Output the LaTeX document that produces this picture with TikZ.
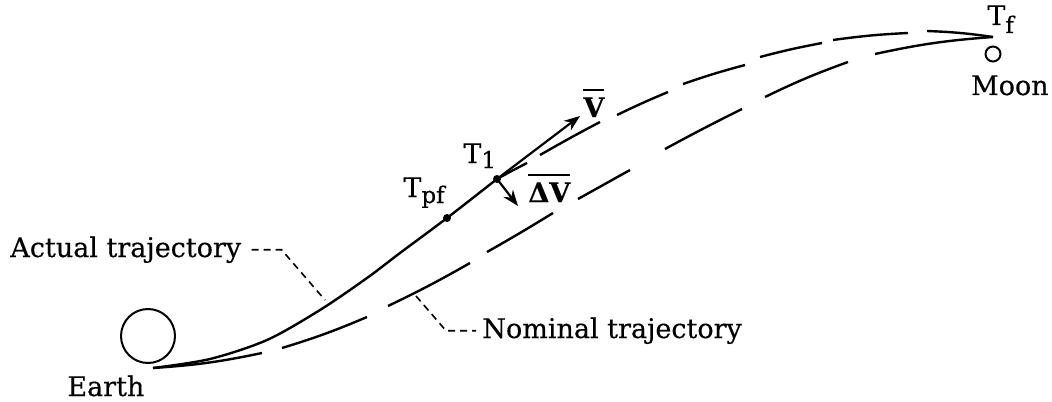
\documentclass[tikz,border=0pt]{standalone}
\usepackage{fontspec}
\setmainfont{DejaVu Serif}[FakeBold=0.4]
\usetikzlibrary{arrows.meta}
\newcommand\subsc[2]{\raisebox{-#1}{\fontsize{11.5pt}{12pt}\selectfont #2}}
\newcommand\barred[1]{\vbox{\hrule height 1pt\kern 3pt\hbox{#1}}}
\begin{document}
\begin{tikzpicture}[x=0.5pt,y=-0.5pt,
  traj/.style={line width=1.2pt},
  leader/.style={line width=0.8pt, dash pattern=on 3.5pt off 2.5pt},
  lbl/.style={inner sep=0pt, anchor=base west, font=\fontsize{13.5pt}{16pt}\selectfont},
  dot/.style={circle, fill, inner sep=0pt, minimum size=4pt},
  body/.style={circle, draw, line width=1pt, inner sep=0pt},
  vec/.style={line width=1.1pt, -{Stealth[length=8pt,width=6pt]}}]
\useasboundingbox (0,0) rectangle (1052,401);

% key points
\coordinate (start) at (153,368);
\coordinate (tpf) at (447,218);
\coordinate (t1) at (497,179);
\coordinate (tf) at (993,37);
\coordinate (vtip) at (580,116);
\coordinate (dvtip) at (518,206);
\coordinate (actend) at (325,300);
\coordinate (nomstart) at (416,296);

% bodies
\node[body, minimum size=27pt] (earth) at (148,336) {};
\node[body, minimum size=7.5pt] (moon) at (993,54) {};

% actual trajectory (solid up to T1)
\draw[traj] plot[smooth] coordinates {(start) (210,359) (267,340) (320,310) (367,278) (400,253) (tpf) (t1)};

% actual trajectory after T1 (dashed)
\draw[traj] (t1) to[bend left=1] (527,163)
  (540,155) to[bend left=1] (600,122)
  (617,115) to[bend left=1.5] (668,92)
  (683,84) to[bend left=2] (745,65)
  (760,57) to[bend left=2] (822,43)
  (833,40) to[bend left=2.5] (908,33)
  (927,31) to[bend left=3] (tf);

% nominal trajectory (dashed)
\draw[traj] (start) to[bend right=4] (262,353)
  (282,348) to[bend right=3] (367,317)
  (388,306) to[bend right=2] (470,263)
  (487,252) to[bend right=1] (553,213)
  (578,199) -- (630,170)
  (665,149) to[bend left=1] (742,109)
  (765,97) to[bend left=3] (848,62)
  (875,54) to[bend left=4] (tf);

% vectors
\draw[vec] (t1) -- (vtip);
\draw[vec] (t1) -- (dvtip);

% points
\node[dot] (tpfdot) at (tpf) {};
\node[dot] (t1dot) at (t1) {};

% labels
\node[lbl] (actlbl) at (10,257) {Actual trajectory};
\node[lbl] (nomlbl) at (482,338) {Nominal trajectory};
\node[lbl] (earthlbl) at (67,396) {Earth};
\node[lbl, anchor=base east] (moonlbl) at (1049,95) {Moon};
\node[lbl] (tflbl) at (987,25) {T\subsc{4pt}{f}};
\node[lbl] (tpflbl) at (403,197) {T\subsc{3pt}{pf}};
\node[lbl] (t1lbl) at (463,163) {T\subsc{2.5pt}{1}};
\node[lbl] (vlbl) at (583,117) {\barred{\bfseries V}};
\node[lbl] (dvlbl) at (528,202) {\barred{\bfseries ΔV}};

% leaders
\draw[leader] ([xshift=5pt]actlbl.east) -- ++(15pt,0) -- (actend);
\draw[leader] (nomstart) -- ([xshift=-18pt]nomlbl.west) -- ([xshift=-3pt]nomlbl.west);
\end{tikzpicture}
\end{document}
